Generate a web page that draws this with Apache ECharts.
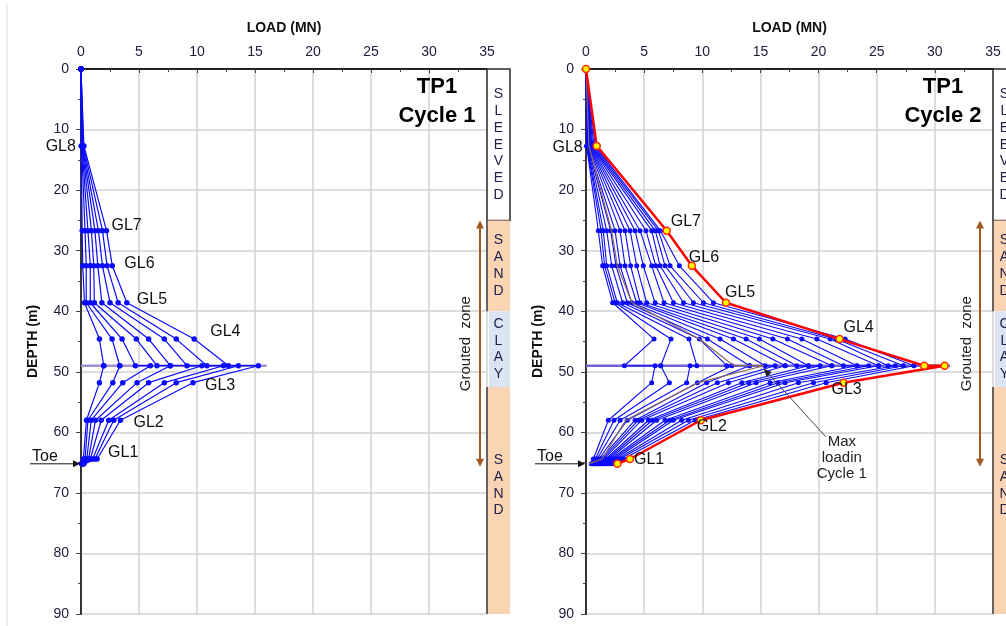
<!DOCTYPE html>
<html>
<head>
<meta charset="utf-8">
<script src="https://cdn.jsdelivr.net/npm/echarts@6.0.0/dist/echarts.min.js"></script>
<style>
html,body{margin:0;padding:0;background:#ffffff;}
#chart{width:1006px;height:626px;}
</style>
</head>
<body>
<div id="chart"></div>
<script>
// ================= DATA =================
const loadTicks = [0, 5, 10, 15, 20, 25, 30, 35];
const depthTicks = [0, 10, 20, 30, 40, 50, 60, 70, 80, 90];
const gaugeNames = ['GL8', 'GL7', 'GL6', 'GL5', 'GL4', 'GL3', 'GL2', 'GL1'];
const gaugeDepths = [12.7, 26.7, 32.5, 38.6, 44.6, 51.8, 58.0, 64.4];
const jackDepth = 49.0;
const toeDepth = 65.2;
const groutTop = 25.0;
const groutBottom = 65.7;

// Cycle 1 : 8 load stages (MN)
const c1GL8 = [0.02, 0.05, 0.08, 0.10, 0.13, 0.16, 0.20, 0.25];
const c1GL7 = [0.10, 0.35, 0.60, 0.90, 1.20, 1.50, 1.85, 2.20];
const c1GL6 = [0.15, 0.45, 0.80, 1.10, 1.45, 1.85, 2.25, 2.70];
const c1GL5 = [0.30, 0.45, 0.80, 1.15, 1.80, 2.50, 3.20, 3.95];
const c1GL4 = [1.59, 2.68, 3.54, 4.77, 5.83, 7.18, 8.21, 9.76];
const c1JackUp = [1.96, 3.34, 4.69, 6.55, 7.70, 9.13, 10.85, 12.71];
const c1JackDown = [1.96, 3.34, 5.98, 7.70, 10.42, 12.28, 13.57, 15.29];
const c1GL3 = [1.59, 2.74, 3.60, 4.83, 5.83, 7.18, 8.21, 9.65];
const c1GL2 = [0.47, 0.60, 0.88, 1.25, 1.74, 2.39, 2.82, 3.40];
const c1GL1 = [0.20, 0.35, 0.50, 0.65, 0.80, 1.00, 1.20, 1.39];
const c1Toe = [0.05, 0.08, 0.10, 0.12, 0.15, 0.18, 0.22, 0.25];

// Cycle 2 : 16 load stages (MN)
const c2GL8 = [0.05, 0.08, 0.10, 0.12, 0.15, 0.18, 0.22, 0.26, 0.30, 0.35, 0.40, 0.45, 0.50, 0.58, 0.68, 0.80];
const c2GL7 = [1.06, 1.30, 1.49, 1.78, 2.12, 2.50, 2.93, 3.36, 3.79, 4.22, 4.65, 5.16, 5.65, 5.95, 6.22, 6.40];
const c2GL6 = [1.43, 1.60, 1.78, 2.21, 2.58, 2.93, 3.36, 3.84, 4.36, 4.93, 5.65, 6.00, 6.37, 6.80, 7.23, 8.03];
const c2GL5 = [2.29, 2.50, 2.69, 3.15, 3.55, 3.93, 4.36, 4.65, 5.22, 5.94, 6.71, 7.52, 8.38, 9.24, 10.10, 10.96];
const c2GL4 = [5.85, 7.31, 8.86, 9.75, 10.44, 11.53, 12.68, 13.77, 14.91, 16.07, 17.32, 18.56, 19.85, 21.00, 21.50, 22.29];
const c2JackUp = [3.30, 6.43, 9.53, 12.11, 14.06, 15.40, 17.13, 18.13, 19.13, 21.14, 22.14, 23.30, 25.15, 26.00, 27.30, 28.20];
const c2JackDown = [5.94, 6.43, 8.95, 12.54, 14.06, 16.27, 17.13, 19.13, 20.14, 21.14, 23.30, 24.30, 25.15, 26.60, 27.30, 28.20];
const c2GL3 = [5.65, 7.17, 8.66, 9.58, 10.38, 11.30, 12.25, 13.40, 14.00, 14.63, 15.83, 16.50, 17.12, 18.27, 19.56, 20.65];
const c2GL2 = [1.92, 2.41, 2.93, 3.55, 4.22, 4.50, 4.79, 5.37, 5.70, 6.08, 6.80, 7.20, 7.51, 8.23, 8.81, 9.38];
const c2GL1 = [0.63, 0.80, 0.95, 1.10, 1.25, 1.40, 1.55, 1.70, 1.85, 2.00, 2.15, 2.30, 2.50, 2.70, 2.90, 3.20];
const c2Toe = [0.45, 0.55, 0.65, 0.75, 0.85, 0.95, 1.05, 1.20, 1.30, 1.40, 1.50, 1.60, 1.75, 1.90, 2.05, 2.25];

// Cycle 2 maximum load profile (red):  top, GL8, GL7, GL6, GL5, GL4, jack(up), jack(down), GL3, GL2, GL1, toe
const c2MaxLoads = [0, 0.92, 6.94, 9.10, 12.04, 21.80, 29.09, 30.84, 22.14, 9.87, 3.78, 2.70];

// Jack level marker extents (MN)
const jackLineEnd = [16.0, 31.3];

// Strata column
const strataTop = [0, 25, 40, 52.5];
const strataBottom = [25, 40, 52.5, 90];
const strataName = ['SLEEVED', 'SAND', 'CLAY', 'SAND'];
const strataKind = ['sleeve', 'sand', 'clay', 'sand'];

const panelTitles = [['TP1', 'Cycle 1'], ['TP1', 'Cycle 2']];
const annotationText = ['Max', 'loadin', 'Cycle 1'];

// ================= STYLE =================
const FONT = '"Liberation Sans", Arial, Helvetica, sans-serif';
const BLUE = '#0a0aff';
const AXIS_TXT = '#1c1c38';
const GRID_COL = '#d2d2d2';
const stratumFill = { sleeve: '#ffffff', sand: '#fbd4b4', clay: '#dbe5f1' };
const jackLineColor = ['#a28fcf', '#6d62d8'];

const profileDepths = [0].concat(gaugeDepths.slice(0, 5), [jackDepth, jackDepth], gaugeDepths.slice(5), [toeDepth]);

function stageLoads(c, i) {
  return [0, c.GL8[i], c.GL7[i], c.GL6[i], c.GL5[i], c.GL4[i], c.up[i], c.down[i], c.GL3[i], c.GL2[i], c.GL1[i], c.toe[i]];
}
const cyc1 = { GL8: c1GL8, GL7: c1GL7, GL6: c1GL6, GL5: c1GL5, GL4: c1GL4, up: c1JackUp, down: c1JackDown, GL3: c1GL3, GL2: c1GL2, GL1: c1GL1, toe: c1Toe };
const cyc2 = { GL8: c2GL8, GL7: c2GL7, GL6: c2GL6, GL5: c2GL5, GL4: c2GL4, up: c2JackUp, down: c2JackDown, GL3: c2GL3, GL2: c2GL2, GL1: c2GL1, toe: c2Toe };

function toPts(loads) { return loads.map((v, k) => [v, profileDepths[k]]); }

const series = [];
// jack level lines
[0, 1].forEach(g => {
  series.push({
    type: 'line', xAxisIndex: g, yAxisIndex: g, silent: true, symbol: 'none', z: 1,
    data: [[0, jackDepth], [jackLineEnd[g], jackDepth]],
    lineStyle: { color: jackLineColor[g], width: 2.5 }
  });
});
function addStages(c, n, g, size, lw) {
  for (let i = 0; i < n; i++) {
    series.push({
      type: 'line', xAxisIndex: g, yAxisIndex: g, silent: true, z: 3,
      data: toPts(stageLoads(c, i)),
      symbol: 'circle', symbolSize: size, showSymbol: true,
      lineStyle: { color: BLUE, width: lw }, itemStyle: { color: BLUE, borderWidth: 0 }
    });
  }
}
addStages(cyc1, c1GL8.length, 0, 5.5, 1.2);
addStages(cyc2, c2GL8.length, 1, 5, 1.1);
// cycle 1 maximum shown on cycle 2 panel
series.push({
  type: 'line', xAxisIndex: 1, yAxisIndex: 1, silent: true, z: 4, symbol: 'none',
  data: toPts(stageLoads(cyc1, c1GL8.length - 1)),
  lineStyle: { color: '#8d6b5c', width: 1.2 }
});
// cycle 2 maximum (red)
series.push({
  type: 'line', xAxisIndex: 1, yAxisIndex: 1, silent: true, z: 6,
  data: toPts(c2MaxLoads),
  symbol: 'circle', symbolSize: 7, showSymbol: true,
  lineStyle: { color: '#ff0000', width: 2.5 },
  itemStyle: { color: '#ffff00', borderColor: '#ff2a00', borderWidth: 1.5 }
});
// strata columns
[2, 3].forEach(g => {
  series.push({
    type: 'custom', xAxisIndex: g, yAxisIndex: g, silent: true, clip: false, z: 2,
    data: strataTop.map((t, i) => [0, t, strataBottom[i], i]),
    encode: { x: 0, y: [1, 2] },
    renderItem: function (params, api) {
      const i = api.value(3);
      const t = api.value(1), b = api.value(2);
      const p1 = api.coord([0, t]);
      const p2 = api.coord([1, b]);
      const kind = strataKind[i];
      const labelDepth = (t + Math.min(b, 85)) / 2;
      const pl = api.coord([0.5, labelDepth]);
      const children = [];
      if (kind === 'clay') {
        children.push({ type: 'rect', shape: { x: p1[0] + 2, y: p1[1], width: p2[0] - p1[0] - 2, height: p2[1] - p1[1] }, style: { fill: stratumFill.clay } });
      } else if (kind === 'sleeve') {
        children.push({ type: 'rect', shape: { x: p1[0], y: p1[1], width: p2[0] - p1[0], height: p2[1] - p1[1] }, style: { fill: '#fff', stroke: '#2a2a2a', lineWidth: 1.5 } });
      } else {
        children.push({ type: 'rect', shape: { x: p1[0], y: p1[1], width: p2[0] - p1[0], height: p2[1] - p1[1] }, style: { fill: stratumFill.sand } });
        children.push({ type: 'line', shape: { x1: p1[0], y1: p1[1], x2: p1[0], y2: p2[1] }, style: { stroke: '#3a3a3a', lineWidth: 1.5 } });
      }
      children.push({
        type: 'text', x: pl[0], y: pl[1],
        style: { text: strataName[i].split('').join('\n'), fill: '#23234a', font: '14px ' + FONT, align: 'center', verticalAlign: 'middle', lineHeight: 16.8 }
      });
      return { type: 'group', children: children };
    }
  });
});

function mainX(g) {
  return {
    type: 'value', gridIndex: g, position: 'top',
    min: loadTicks[0], max: loadTicks[loadTicks.length - 1], interval: loadTicks[1] - loadTicks[0],
    name: 'LOAD (MN)', nameLocation: 'middle', nameGap: 34,
    nameTextStyle: { fontFamily: FONT, fontWeight: 'bold', fontSize: 14, color: '#111' },
    axisLine: { show: true, onZero: false, lineStyle: { color: '#222', width: 1.8 } },
    axisTick: { show: true, inside: true, length: 4, lineStyle: { color: '#444' } },
    minorTick: { show: true, splitNumber: 2, length: 3, lineStyle: { color: '#444' } },
    axisLabel: { fontFamily: FONT, fontSize: 14, color: AXIS_TXT, margin: 10 },
    splitLine: { show: true, lineStyle: { color: GRID_COL, width: 1.5 } }
  };
}
function mainY(g) {
  return {
    type: 'value', gridIndex: g, inverse: true,
    min: depthTicks[0], max: depthTicks[depthTicks.length - 1], interval: depthTicks[1] - depthTicks[0],
    name: 'DEPTH (m)', nameLocation: 'middle', nameGap: 41, nameRotate: 90,
    nameTextStyle: { fontFamily: FONT, fontWeight: 'bold', fontSize: 14, color: '#111' },
    axisLine: { show: true, onZero: false, lineStyle: { color: '#222', width: 1.8 } },
    axisTick: { show: true, inside: false, length: 5, lineStyle: { color: '#444' } },
    minorTick: { show: true, splitNumber: 2, length: 3, lineStyle: { color: '#444' } },
    axisLabel: { fontFamily: FONT, fontSize: 14, color: AXIS_TXT, margin: 12 },
    splitLine: { show: true, lineStyle: { color: GRID_COL, width: 1.5 } }
  };
}
function hiddenX(g) { return { type: 'value', gridIndex: g, min: 0, max: 1, show: false }; }
function hiddenY(g) { return { type: 'value', gridIndex: g, min: depthTicks[0], max: depthTicks[depthTicks.length - 1], inverse: true, show: false }; }

const chart = echarts.init(document.getElementById('chart'), null, { renderer: 'canvas' });
chart.setOption({
  animation: false,
  backgroundColor: '#ffffff',
  grid: [
    { left: 81, top: 69, width: 406, height: 545, containLabel: false, outerBoundsMode: 'none' },
    { left: 586, top: 69, width: 407, height: 545, containLabel: false, outerBoundsMode: 'none' },
    { left: 487, top: 69, width: 23, height: 545, containLabel: false, outerBoundsMode: 'none' },
    { left: 993, top: 69, width: 23, height: 545, containLabel: false, outerBoundsMode: 'none' }
  ],
  xAxis: [mainX(0), mainX(1), hiddenX(2), hiddenX(3)],
  yAxis: [mainY(0), mainY(1), hiddenY(2), hiddenY(3)],
  series: series
});

// ================= ANNOTATIONS =================
function px(g, x, y) { return chart.convertToPixel({ xAxisIndex: g, yAxisIndex: g }, [x, y]); }
const graphics = [];
graphics.push({ type: 'line', shape: { x1: 7, y1: 3, x2: 7, y2: 626 }, style: { stroke: '#e3e3e3', lineWidth: 1 }, silent: true });

const lastC1 = c1GL8.length - 1;
const c1Anchor = [c1GL8[lastC1], c1GL7[lastC1], c1GL6[lastC1], c1GL5[lastC1], c1GL4[lastC1], c1GL3[lastC1], c1GL2[lastC1], c1GL1[lastC1]];
const c2Anchor = [c2MaxLoads[1], c2MaxLoads[2], c2MaxLoads[3], c2MaxLoads[4], c2MaxLoads[5], c2MaxLoads[8], c2MaxLoads[9], c2MaxLoads[10]];
// label offsets [dx, dy, align]
const labelOffsets = [
  [[-8, 1, 'right'], [5, -5, 'left'], [12, -2, 'left'], [10, -3, 'left'], [16, -7, 'left'], [12, 3, 'left'], [13, 2, 'left'], [11, -6, 'left']],
  [[-14, 2, 'right'], [4, -9, 'left'], [-3, -8, 'left'], [-1, -10, 'left'], [4, -11, 'left'], [-12, 7, 'left'], [-4, 6, 'left'], [4, 1, 'left']]
];
const anchors = [c1Anchor, c2Anchor];
const groutArrowOff = [7, 13];
const groutTextOff = [21, 26];

[0, 1].forEach(g => {
  gaugeNames.forEach((nm, k) => {
    const p = px(g, anchors[g][k], gaugeDepths[k]);
    const o = labelOffsets[g][k];
    graphics.push({ type: 'text', x: p[0] + o[0], y: p[1] + o[1], silent: true, z: 50,
      style: { text: nm, font: '16px ' + FONT, fill: '#111', align: o[2], verticalAlign: 'middle' } });
  });
  const topRight = px(g, loadTicks[loadTicks.length - 1], 0);
  // titles
  graphics.push({ type: 'text', x: topRight[0] - 50, y: topRight[1] + 18, silent: true, z: 50,
    style: { text: panelTitles[g][0], font: 'bold 22px ' + FONT, fill: '#000', align: 'center', verticalAlign: 'middle' } });
  graphics.push({ type: 'text', x: topRight[0] - 50, y: topRight[1] + 47, silent: true, z: 50,
    style: { text: panelTitles[g][1], font: 'bold 22px ' + FONT, fill: '#000', align: 'center', verticalAlign: 'middle' } });
  // grouted zone arrow
  const gt = px(g, loadTicks[loadTicks.length - 1], groutTop);
  const gb = px(g, loadTicks[loadTicks.length - 1], groutBottom);
  const ax = gt[0] - groutArrowOff[g];
  const brown = '#a2581f';
  graphics.push({ type: 'line', silent: true, z: 40, shape: { x1: ax, y1: gt[1] + 4, x2: ax, y2: gb[1] - 4 }, style: { stroke: brown, lineWidth: 2 } });
  graphics.push({ type: 'polygon', silent: true, z: 40, shape: { points: [[ax, gt[1]], [ax - 4, gt[1] + 8], [ax + 4, gt[1] + 8]] }, style: { fill: brown } });
  graphics.push({ type: 'polygon', silent: true, z: 40, shape: { points: [[ax, gb[1]], [ax - 4, gb[1] - 8], [ax + 4, gb[1] - 8]] }, style: { fill: brown } });
  graphics.push({ type: 'text', silent: true, z: 40, x: gt[0] - groutTextOff[g], y: (gt[1] + gb[1]) / 2, rotation: Math.PI / 2,
    style: { text: 'Grouted  zone', font: '15px ' + FONT, fill: '#222', align: 'center', verticalAlign: 'middle' } });
  // toe
  const tp = px(g, 0, toeDepth);
  graphics.push({ type: 'line', silent: true, z: 40, shape: { x1: tp[0] - 51, y1: tp[1], x2: tp[0] - 5, y2: tp[1] }, style: { stroke: '#111', lineWidth: 1 } });
  graphics.push({ type: 'polygon', silent: true, z: 40, shape: { points: [[tp[0] - 1, tp[1]], [tp[0] - 8, tp[1] - 3.5], [tp[0] - 8, tp[1] + 3.5]] }, style: { fill: '#111' } });
  graphics.push({ type: 'text', silent: true, z: 40, x: tp[0] - 49, y: tp[1] - 7, style: { text: 'Toe', font: '16px ' + FONT, fill: '#111', align: 'left', verticalAlign: 'middle' } });
});

// "Max load in Cycle 1" pointer
const mp = px(1, c1JackDown[lastC1], jackDepth);
const tipX = mp[0], tipY = mp[1] + 3;
const tailX = mp[0] + 62, tailY = mp[1] + 71;
graphics.push({ type: 'line', silent: true, z: 45, shape: { x1: tailX, y1: tailY, x2: tipX, y2: tipY }, style: { stroke: '#444', lineWidth: 1 } });
(function () {
  const ang = Math.atan2(tipY - tailY, tipX - tailX);
  const L = 8, W = 3.5;
  const bx = tipX - L * Math.cos(ang), by = tipY - L * Math.sin(ang);
  graphics.push({ type: 'polygon', silent: true, z: 45, shape: { points: [[tipX, tipY], [bx + W * Math.sin(ang), by - W * Math.cos(ang)], [bx - W * Math.sin(ang), by + W * Math.cos(ang)]] }, style: { fill: '#222' } });
})();
graphics.push({ type: 'text', silent: true, z: 45, x: mp[0] + 78, y: mp[1] + 92,
  style: { text: annotationText.join('\n'), font: '15px ' + FONT, fill: '#222', align: 'center', verticalAlign: 'middle', lineHeight: 16 } });

chart.setOption({ graphic: graphics });
</script>
</body>
</html>
